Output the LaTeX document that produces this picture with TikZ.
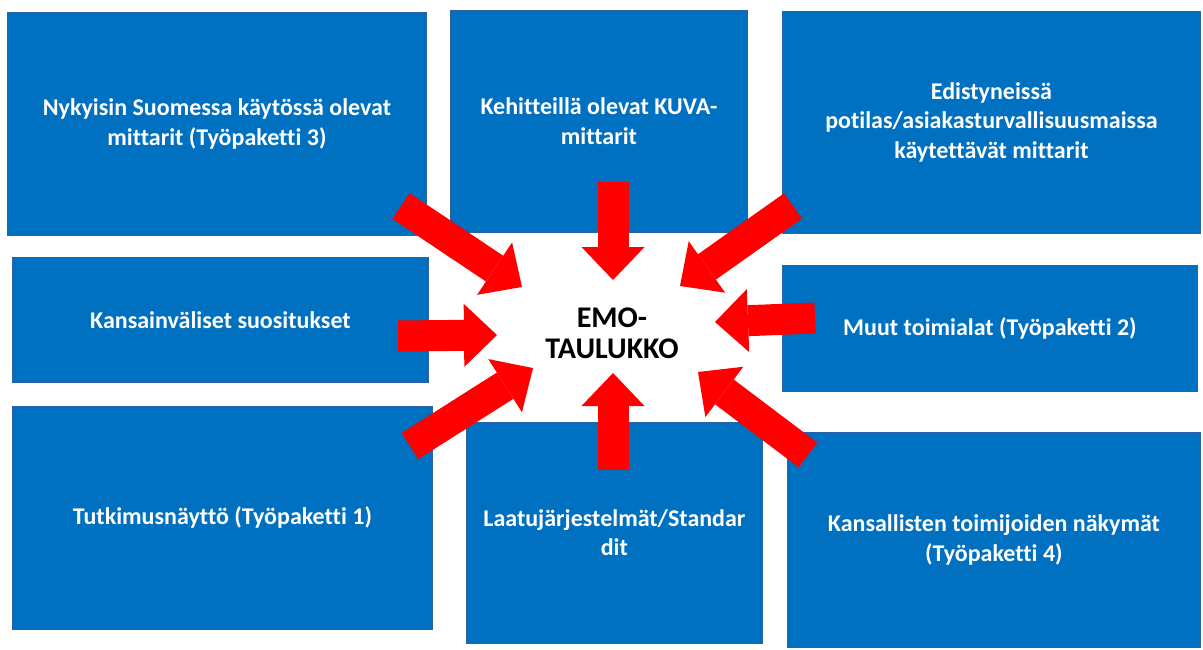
\documentclass[tikz,border=0pt]{standalone}
\usepackage{fontspec}
\setmainfont[Ligatures=NoCommon]{Carlito}
\usepackage{xcolor}
\usepackage{tikz}
\usetikzlibrary{arrows.meta,positioning}

\definecolor{boxblue}{HTML}{0070C0}
\definecolor{boxline}{HTML}{2E62A8}
\definecolor{feedred}{HTML}{FF0000}

\begin{document}
\begin{tikzpicture}[x=1pt, y=-1pt,
    box/.style={draw=boxline, line width=0.8pt, fill=boxblue, text=white,
                anchor=north west, inner sep=0pt, align=center,
                font=\fontsize{24}{29.5}\selectfont\bfseries},
    hub/.style={text=black, align=center, inner sep=0pt,
                font=\fontsize{30}{31}\selectfont\bfseries},
    feed/.style={line width=31pt, color=feedred,
                 -{Triangle[length=33pt, width=63pt, line width=0pt]}}
]
\useasboundingbox (0,0) rectangle (1203,649);

%% Source boxes, top row
\node[box, minimum width=419pt, minimum height=223pt] (nyky) at (7,12)
    {Nykyisin Suomessa käytössä olevat\\mittarit (Työpaketti 3)};
\node[box, minimum width=297pt, minimum height=222pt] (kuva) at (450,10)
    {Kehitteillä olevat KUVA-\\mittarit};
\node[box, minimum width=418pt, minimum height=222pt] (edis) at (782,11)
    {Edistyneissä\\potilas/asiakasturvallisuusmaissa\\käytettävät mittarit};

%% Source boxes, middle row
\node[box, minimum width=416pt, minimum height=125pt] (kans) at (12,257)
    {Kansainväliset suositukset};
\node[box, minimum width=415pt, minimum height=126pt] (muut) at (782,265)
    {Muut toimialat (Työpaketti 2)};

%% Source boxes, bottom row
\node[box, minimum width=420pt, minimum height=223pt] (tutk) at (12,406)
    {Tutkimusnäyttö (Työpaketti 1)};
\node[box, minimum width=296pt, minimum height=221pt] (laat) at (466,422)
    {Laatujärjestelmät/Standar\\dit};
\node[box, minimum width=413pt, minimum height=215pt] (kanst) at (787,432)
    {Kansallisten toimijoiden näkymät\\(Työpaketti 4)};

%% Centre
\node[hub] (emo) at (612,333) {EMO-\\TAULUKKO};

%% Arrow ends
\coordinate (nykyOut) at (401,206);
\coordinate (nykyIn)  at (522,287);
\coordinate (kuvaOut) at (613,182);
\coordinate (kuvaIn)  at (613,280);
\coordinate (edisOut) at (793,206);
\coordinate (edisIn)  at (680,286);
\coordinate (kansOut) at (398,336);
\coordinate (kansIn)  at (497,335);
\coordinate (muutOut) at (815,318);
\coordinate (muutIn)  at (715,322);
\coordinate (tutkOut) at (410,446);
\coordinate (tutkIn)  at (533,368);
\coordinate (laatOut) at (613,470);
\coordinate (laatIn)  at (613,373);
\coordinate (kanstOut) at (808,455);
\coordinate (kanstIn)  at (698,372);

%% Arrows into the table
\draw[feed] (nykyOut) -- (nykyIn);
\draw[feed] (kuvaOut) -- (kuvaIn);
\draw[feed] (edisOut) -- (edisIn);
\draw[feed] (kansOut) -- (kansIn);
\draw[feed] (muutOut) -- (muutIn);
\draw[feed] (tutkOut) -- (tutkIn);
\draw[feed] (laatOut) -- (laatIn);
\draw[feed] (kanstOut) -- (kanstIn);

\end{tikzpicture}
\end{document}
